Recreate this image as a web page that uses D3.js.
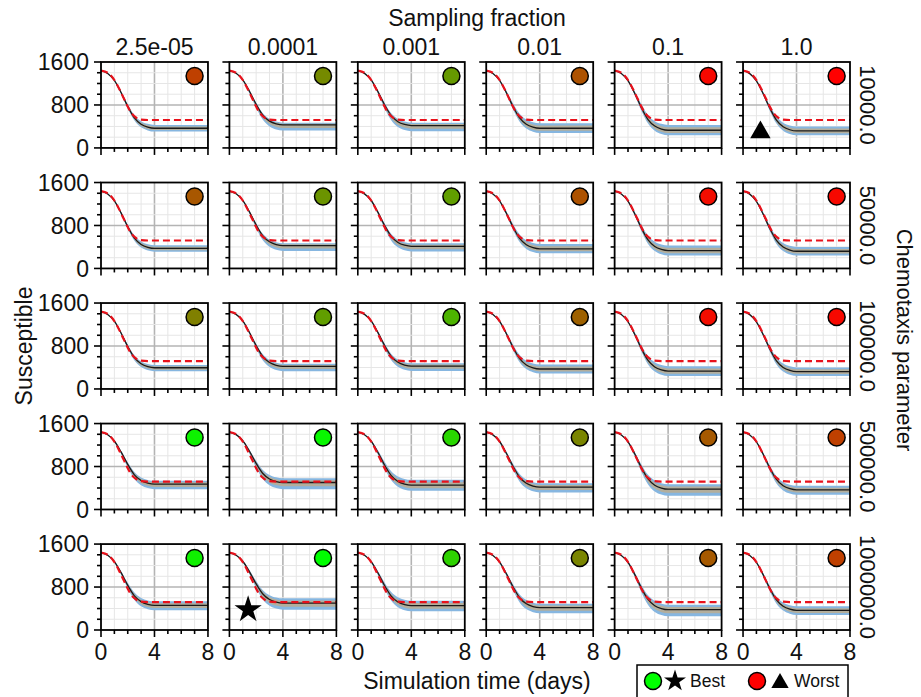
<!DOCTYPE html>
<html lang="en">
<head>
<meta charset="UTF-8">
<title>Susceptible grid</title>
<style>
body { margin: 0; background: #fff; }
text { font-family: 'Liberation Sans', Arial, sans-serif; fill: #111; }
</style>
</head>
<body>
<div id="vis"></div>
<script src="https://d3js.org/d3.v7.min.js"></script>
<script>

// ---- data ----
const samplingFractions = ["2.5e-05", "0.0001", "0.001", "0.01", "0.1", "1.0"];
const chemotaxisParams = ["10000.0", "50000.0", "100000.0", "500000.0", "1000000.0"];

const xTicks = [0, 4, 8];
const yTicks = [0, 800, 1600];

// observed data (red dashed), same in every panel
const obsTime  = [0, 0.5, 1, 1.5, 2, 2.25, 2.5, 2.75, 3, 3.5, 4, 6, 8];
const obsValue = [1440, 1400, 1265, 1030, 770, 660, 590, 545, 527, 520, 520, 520, 520];

// model curve shape: share of the drop completed at each time
const modelTime  = [0, 0.5, 1, 1.5, 2, 2.5, 3, 3.5, 4, 5, 6, 7, 8];
const modelDrop  = [0, 0.05, 0.17, 0.38, 0.62, 0.82, 0.93, 0.98, 1, 1, 1, 1, 1];
const startValue = 1440;

// end level of the model mean and of its spread, per row (chemotaxis) and column (sampling)
const meanEnd = [
  [366, 428, 416, 366, 329, 316],
  [372, 425, 412, 366, 332, 320],
  [395, 420, 425, 372, 332, 322],
  [471, 502, 453, 416, 378, 366],
  [459, 502, 453, 416, 378, 366]
];
const bandHigh = [
  [428, 471, 471, 459, 428, 397],
  [430, 470, 468, 455, 425, 400],
  [445, 470, 480, 455, 425, 400],
  [533, 583, 552, 490, 471, 440],
  [533, 589, 546, 490, 471, 440]
];
const bandLow = [
  [304, 323, 310, 279, 236, 236],
  [310, 325, 315, 282, 240, 240],
  [330, 330, 335, 290, 240, 240],
  [378, 378, 347, 316, 254, 273],
  [366, 378, 347, 310, 254, 280]
];
// fit score: 0 = best (green) ... 1 = worst (red)
const score = [
  [0.75, 0.46, 0.40, 0.68, 0.97, 1.00],
  [0.66, 0.42, 0.38, 0.68, 0.95, 0.97],
  [0.50, 0.38, 0.30, 0.62, 0.95, 0.97],
  [0.05, 0.03, 0.16, 0.48, 0.65, 0.75],
  [0.06, 0.00, 0.18, 0.48, 0.65, 0.75]
];
const best  = { row: 4, col: 1, t: 1.4, v: 380 };
const worst = { row: 0, col: 5, t: 1.3, v: 290 };

// ---- layout ----
const width = 921, height = 697;

const svg = d3.select("#vis").append("svg")
  .attr("width", width)
  .attr("height", height);

const colScale = d3.scaleBand()
  .domain(d3.range(samplingFractions.length))
  .range([101, 850])
  .paddingInner(0.167);
const rowScale = d3.scaleBand()
  .domain(d3.range(chemotaxisParams.length))
  .range([62, 630])
  .paddingInner(0.287);

const x = d3.scaleLinear().domain([0, 8]).range([0, colScale.bandwidth()]);
const y = d3.scaleLinear().domain([0, 1600]).range([rowScale.bandwidth(), 0]);

const colorScore = d3.scaleLinear().domain([0, 1]).range(["#00ff00", "#ff0000"]).interpolate(d3.interpolateRgb);

const line = d3.line().x(d => x(d[0])).y(d => y(d[1])).curve(d3.curveMonotoneX);
const area = d3.area().x(d => x(d[0])).y0(d => y(d[1])).y1(d => y(d[2])).curve(d3.curveMonotoneX);

function level(end, i) {
  return startValue - modelDrop[i] * (startValue - end);
}

for (let r = 0; r < chemotaxisParams.length; r++) {
  for (let c = 0; c < samplingFractions.length; c++) {
    const g = svg.append("g")
      .attr("transform", "translate(" + colScale(c) + "," + rowScale(r) + ")");
    const w = colScale.bandwidth(), h = rowScale.bandwidth();

    // grid
    g.selectAll(".gx").data(d3.range(1, 8)).enter().append("line")
      .attr("x1", d => x(d)).attr("x2", d => x(d)).attr("y1", 0).attr("y2", h)
      .style("stroke", d => d === 4 ? "#b4b4b4" : "#e6e6e6")
      .style("stroke-width", d => d === 4 ? 1.6 : 1);
    g.selectAll(".gy").data(d3.range(200, 1600, 200)).enter().append("line")
      .attr("y1", d => y(d)).attr("y2", d => y(d)).attr("x1", 0).attr("x2", w)
      .style("stroke", d => d === 800 ? "#b4b4b4" : "#e6e6e6")
      .style("stroke-width", d => d === 800 ? 1.6 : 1);

    const mEnd = meanEnd[r][c], hi = bandHigh[r][c], lo = bandLow[r][c];
    const outer = modelTime.map((t, i) => [t, level(lo, i), level(hi, i)]);
    const inner = modelTime.map((t, i) => [t,
      level(mEnd - 0.55 * (mEnd - lo), i), level(mEnd + 0.55 * (hi - mEnd), i)]);
    const mean = modelTime.map((t, i) => [t, level(mEnd, i)]);

    g.append("path").attr("d", area(outer)).style("fill", "#86b6e0");
    g.append("path").attr("d", area(inner)).style("fill", "#b3ae9c");
    g.append("path").attr("d", line(mean))
      .style("fill", "none").style("stroke", "#1a1a1a").style("stroke-width", 1.3);
    g.append("path").attr("d", line(obsTime.map((t, i) => [t, obsValue[i]])))
      .style("fill", "none").style("stroke", "#e8111b").style("stroke-width", 2.2)
      .style("stroke-dasharray", "7,4");

    // score dot
    g.append("circle")
      .attr("cx", x(7)).attr("cy", y(1340)).attr("r", 8.5)
      .style("fill", colorScore(score[r][c]))
      .style("stroke", "#000").style("stroke-width", 1.5);

    // frame
    g.append("rect").attr("width", w).attr("height", h)
      .style("fill", "none").style("stroke", "#000").style("stroke-width", 1.8);

    // ticks
    g.selectAll(".tx").data(d3.range(0, 9)).enter().append("line")
      .attr("x1", d => x(d)).attr("x2", d => x(d))
      .attr("y1", h).attr("y2", d => h + (d % 4 === 0 ? 7 : 4))
      .style("stroke", "#000").style("stroke-width", 1.6);
    g.selectAll(".ty").data(d3.range(0, 1601, 200)).enter().append("line")
      .attr("y1", d => y(d)).attr("y2", d => y(d))
      .attr("x1", 0).attr("x2", d => d % 800 === 0 ? -7 : -4)
      .style("stroke", "#000").style("stroke-width", 1.6);

    if (c === 0) {
      g.selectAll(".yl").data(yTicks).enter().append("text")
        .attr("x", -12).attr("y", d => y(d))
        .attr("dy", "0.36em")
        .attr("text-anchor", "end")
        .style("font-size", "23px")
        .text(d => d);
    }
    if (r === chemotaxisParams.length - 1) {
      g.selectAll(".xl").data(xTicks).enter().append("text")
        .attr("x", d => x(d)).attr("y", h + 30)
        .attr("text-anchor", "middle")
        .style("font-size", "23px")
        .text(d => d);
    }
    if (r === 0) {
      g.append("text").attr("x", w / 2).attr("y", -7)
        .attr("text-anchor", "middle").style("font-size", "23px")
        .text(samplingFractions[c]);
    }
    if (c === samplingFractions.length - 1) {
      g.append("text")
        .attr("transform", "translate(" + (w + 10) + "," + (h / 2) + ") rotate(90)")
        .attr("text-anchor", "middle").style("font-size", "22px")
        .text(chemotaxisParams[r]);
    }
    if (r === best.row && c === best.col) {
      g.append("path")
        .attr("transform", "translate(" + x(best.t) + "," + y(best.v) + ")")
        .attr("d", d3.symbol(d3.symbolStar, 230)());
    }
    if (r === worst.row && c === worst.col) {
      g.append("path")
        .attr("transform", "translate(" + x(worst.t) + "," + y(worst.v) + ")")
        .attr("d", d3.symbol(d3.symbolTriangle, 180)());
    }
  }
}

// axis titles
svg.append("text").attr("x", 477).attr("y", 26)
  .attr("text-anchor", "middle").style("font-size", "23px").text("Sampling fraction");
svg.append("text").attr("x", 477).attr("y", 689)
  .attr("text-anchor", "middle").style("font-size", "23px").text("Simulation time (days)");
svg.append("text")
  .attr("transform", "translate(32,346) rotate(-90)")
  .attr("text-anchor", "middle").style("font-size", "23px").text("Susceptible");
svg.append("text")
  .attr("transform", "translate(897,340) rotate(90)")
  .attr("text-anchor", "middle").style("font-size", "22px").text("Chemotaxis parameter");

// legend
const leg = svg.append("g").attr("transform", "translate(637,665)");
leg.append("rect").attr("width", 211).attr("height", 40)
  .style("fill", "#fff").style("stroke", "#000").style("stroke-width", 1.5);
leg.append("circle").attr("cx", 16).attr("cy", 16).attr("r", 8.5)
  .style("fill", colorScore(0)).style("stroke", "#000").style("stroke-width", 1.5);
leg.append("path").attr("transform", "translate(38,16)").attr("d", d3.symbol(d3.symbolStar, 150)());
leg.append("text").attr("x", 53).attr("y", 22).style("font-size", "17.5px").text("Best");
leg.append("circle").attr("cx", 120).attr("cy", 16).attr("r", 8.5)
  .style("fill", colorScore(1)).style("stroke", "#000").style("stroke-width", 1.5);
leg.append("path").attr("transform", "translate(143,18)").attr("d", d3.symbol(d3.symbolTriangle, 130)());
leg.append("text").attr("x", 157).attr("y", 22).style("font-size", "17.5px").text("Worst");

</script>
</body>
</html>
